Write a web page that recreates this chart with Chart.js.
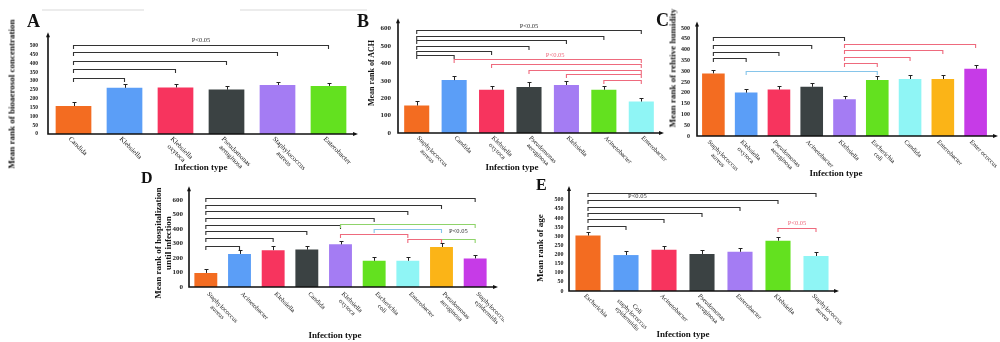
<!DOCTYPE html>
<html><head><meta charset="utf-8">
<script src="https://cdn.jsdelivr.net/npm/chart.js@4/dist/chart.umd.min.js"></script>
<style>
html,body{margin:0;padding:0;background:#fff;width:1000px;height:342px;overflow:hidden;position:relative;font-family:"Liberation Serif","DejaVu Serif",serif}
canvas{position:absolute}
.t{position:absolute;font-weight:bold;color:#111;white-space:nowrap;line-height:1}
.c{transform:translate(-50%,0)}
.r{transform:translate(-50%,-50%) rotate(-90deg);text-align:center}
.g{position:absolute;height:2px;background:#ececec}
</style></head><body>
<div class="g" style="left:42px;top:9px;width:102px"></div>
<div class="g" style="left:240px;top:9px;width:127px"></div>

<div class="t" style="left:27px;top:12px;font-size:18px">A</div>
<div class="t" style="left:357px;top:12px;font-size:18px">B</div>
<div class="t" style="left:656px;top:11px;font-size:18px">C</div>
<div class="t" style="left:141px;top:170px;font-size:16px">D</div>
<div class="t" style="left:536px;top:177px;font-size:16px">E</div>

<div class="t r" style="left:12px;top:94px;font-size:9px">Mean rank of bioaerosol concentration</div>
<div class="t r" style="left:372px;top:73px;font-size:8px">Mean rank of ACH</div>
<div class="t r" style="left:673px;top:68px;font-size:9px">Mean rank of rehtive humidity</div>
<div class="t r" style="left:163px;top:243px;font-size:9px;line-height:10px">Mean rank of hospitalization<br>until infection</div>
<div class="t r" style="left:540px;top:248px;font-size:9px">Mean rank of age</div>

<div class="t c" style="left:201px;top:163px;font-size:9px">Infection type</div>
<div class="t c" style="left:512px;top:163px;font-size:9px">Infection type</div>
<div class="t c" style="left:836px;top:169px;font-size:9px">Infection type</div>
<div class="t c" style="left:335px;top:331px;font-size:9px">Infection type</div>
<div class="t c" style="left:683px;top:330px;font-size:9px">Infection type</div>

<script>
// ---------- DATA ----------
const categoriesA = [["Candida"],["Klebsiella"],["Klebsiella","oxytoca"],["Pseudomonas","aeruginosa"],["Staphylococcus","aureus"],["Enterobacter"]];
const valuesA = [158,261,263,251,277,272];
const errorsA = [25,23,21,21,19,19];
const yTicksA = [0,50,100,150,200,250,300,350,400,450,500];
const bracketsA = [[0,1,316],[0,2,368],[0,3,414],[0,4,463],[0,5,502]];
const notesA = [[2.5,531,"P<0.05"]];

const categoriesB = [["Staphylococcus","aureus"],["Candida"],["Klebsiella","oxytoca"],["Pseudomonas","aeruginosa"],["Klebsiella"],["Acinetobacter"],["Enterobacter"]];
const valuesB = [158,304,249,265,276,249,181];
const errorsB = [26,24,24,26,22,24,22];
const yTicksB = [0,100,200,300,400,500,600];
const bracketsB = [[0,1,446],[0,2,473],[0,3,503],[0,4,534],[0,5,556],[0,6,595]];
const bracketsBRed = [[1,6,423],[2,6,394],[3,6,365],[4,6,337],[5,6,304]];
const notesB = [[3,611,"P<0.05"]];
const notesBRed = [[3.7,447,"P<0.05"]];

const categoriesC = [["Staphylococcus","aureus"],["Klebsiella","oxytoca"],["Pseudomonas","aeruginosa"],["Acinetobacter"],["Klebsiella"],["Escherichia","coli"],["Candida"],["Enterobacter"],["Enter ococcus"]];
const valuesC = [290,201,215,228,170,260,264,264,312];
const errorsC = [18,15,16,18,16,16,18,18,18];
const yTicksC = [0,50,100,150,200,250,300,350,400,450,500];
const bracketsC = [[0,1,361],[0,2,390],[0,3,421],[0,4,458]];
const bracketsCRed = [[4,5,336],[4,6,366],[4,7,398],[4,8,426]];
const bracketsCBlue = [[1,5,300]];

const categoriesD = [["Staphylococcus","aureus"],["Acinetobacter"],["Klebsiella"],["Candida"],["Klebsiella","oxytoca"],["Escherichia","coli"],["Enterobacter"],["Pseudomonas","aeruginosa"],["Staphylococcus","epidermidis"]];
const valuesD = [97,228,254,258,294,181,181,276,197];
const errorsD = [24,26,26,24,26,24,24,26,24];
const yTicksD = [0,100,200,300,400,500,600];
const bracketsD = [[0,1,285],[0,2,338],[0,3,387],[0,4,430],[0,5,475],[0,6,523],[0,7,568],[0,8,614]];
const bracketsDGreen = [[4,8,437],[7,8,331]];
const bracketsDRed = [[4,6,364],[6,7,331]];
const bracketsDBlue = [[5,7,397]];
const notesD = [[7.5,382,"P<0.05"]];

const categoriesE = [["Escherichia"],["Coli","staphylococcus","epidermidis"],["Acinetobacter"],["Pseudomonas","aeruginosa"],["Enterobacter"],["Klebsiella"],["Staphylococcus","aureus"]];
const valuesE = [304,197,226,203,215,276,192];
const errorsE = [18,20,18,21,18,20,20];
const yTicksE = [0,50,100,150,200,250,300,350,400,450,500];
const bracketsE = [[0,1,356],[0,2,393],[0,3,427],[0,4,463],[0,5,498],[0,6,537]];
const bracketsERed = [[5,6,343]];
const notesE = [[1.3,518,"P<0.05"]];
const notesERed = [[5.5,370,"P<0.05"]];

// ---------- STYLE ----------
const palette = ["#F36C21","#5B9EF7","#F7345E","#3B4243","#A47CF3","#63E11F","#8FF5F5","#FBB417","#C63BE7"];
const INK = "#333", RED = "#EE6A7D", BLUE = "#86C5EA", GREEN = "#8FD36A";
const SERIF = '"Liberation Serif","DejaVu Serif",serif';

const decor = {
  id: 'decor',
  afterDatasetsDraw(chart, args, o) {
    const ctx = chart.ctx, xs = chart.scales.x, ys = chart.scales.y, ca = chart.chartArea;
    const ds = chart.data.datasets[0];
    ctx.save();
    // error bars
    ctx.strokeStyle = '#222'; ctx.lineWidth = 1;
    ds.data.forEach((v, i) => {
      const cx = Math.round(xs.getPixelForValue(i)) + 0.5;
      const y0 = ys.getPixelForValue(v), y1 = Math.round(ys.getPixelForValue(v + ds.errors[i])) + 0.5;
      ctx.beginPath(); ctx.moveTo(cx, y0); ctx.lineTo(cx, y1);
      ctx.moveTo(cx - 2, y1); ctx.lineTo(cx + 2, y1); ctx.stroke();
    });
    // axes with arrows
    ctx.strokeStyle = '#111'; ctx.fillStyle = '#111'; ctx.lineWidth = 1.6;
    const ax = ca.right + o.arrowX;
    ctx.beginPath();
    ctx.moveTo(ca.left, ca.bottom); ctx.lineTo(ca.left, ca.top + 3);
    ctx.moveTo(ca.left - 0.8, ca.bottom); ctx.lineTo(ax - 3, ca.bottom);
    ctx.stroke();
    ctx.beginPath(); ctx.moveTo(ca.left, ca.top); ctx.lineTo(ca.left - 2, ca.top + 5); ctx.lineTo(ca.left + 2, ca.top + 5); ctx.closePath(); ctx.fill();
    ctx.beginPath(); ctx.moveTo(ax, ca.bottom); ctx.lineTo(ax - 5, ca.bottom - 2); ctx.lineTo(ax - 5, ca.bottom + 2); ctx.closePath(); ctx.fill();
    // brackets
    o.brackets.forEach(g => {
      ctx.strokeStyle = g.color; ctx.lineWidth = 1.1;
      g.list.forEach(([a, b, v]) => {
        const xa = xs.getPixelForValue(a), xb = xs.getPixelForValue(b);
        const yy = Math.round(ys.getPixelForValue(v)) + 0.5;
        ctx.beginPath(); ctx.moveTo(xa, yy + o.tick); ctx.lineTo(xa, yy); ctx.lineTo(xb, yy); ctx.lineTo(xb, yy + o.tick); ctx.stroke();
      });
    });
    // notes
    ctx.textAlign = 'center'; ctx.textBaseline = 'middle';
    ctx.font = o.noteFont + 'px ' + SERIF;
    o.notes.forEach(g => {
      ctx.fillStyle = g.color;
      g.list.forEach(([i, v, txt]) => ctx.fillText(txt, xs.getPixelForValue(i), ys.getPixelForValue(v)));
    });
    // rotated category labels
    ctx.fillStyle = '#222'; ctx.textAlign = 'left'; ctx.textBaseline = 'middle';
    ctx.font = o.labelFont + 'px ' + SERIF;
    chart.data.labels.forEach((lines, i) => {
      const ws = lines.map(l => ctx.measureText(l).width), mw = Math.max(...ws);
      ctx.save();
      ctx.translate(xs.getPixelForValue(i) + o.ldx, ca.bottom + o.ldy);
      ctx.rotate(Math.PI / 4);
      lines.forEach((l, j) => ctx.fillText(l, (mw - ws[j]) / 2, j * o.lh));
      ctx.restore();
    });
    ctx.restore();
  }
};

const YW = 40, PT = 6, PR = 12, XH = 55;
function makePanel(p) {
  const cv = document.createElement('canvas');
  const w = (p.r - p.l) + YW + PR, h = (p.b - p.t) + PT + XH;
  cv.width = w; cv.height = h;
  cv.style.left = (p.l - YW) + 'px'; cv.style.top = (p.t - PT) + 'px';
  cv.style.width = w + 'px'; cv.style.height = h + 'px';
  document.body.insertBefore(cv, document.body.firstChild);
  new Chart(cv, {
    type: 'bar',
    data: {
      labels: p.labels,
      datasets: [{ data: p.values, errors: p.errors,
        backgroundColor: p.values.map((v, i) => palette[i]),
        categoryPercentage: 1, barPercentage: p.barPct, borderWidth: 0 }]
    },
    options: {
      responsive: false, animation: false, events: [],
      layout: { padding: { left: 0, top: PT, right: PR, bottom: 0 } },
      plugins: { legend: { display: false }, tooltip: { enabled: false },
        decor: { arrowX: p.arrowX, tick: 3.5, brackets: p.brackets, notes: p.notes || [],
          noteFont: 6.5, labelFont: p.labelFont, lh: p.labelFont + 0.5, ldx: p.ldx, ldy: p.ldy } },
      scales: {
        x: { type: 'category', ticks: { display: false }, grid: { display: false, drawTicks: false }, border: { display: false },
             afterFit(s) { s.height = XH; } },
        y: { min: 0, max: p.max,
             afterBuildTicks(s) { s.ticks = p.ticks.map(v => ({ value: v })); },
             ticks: { autoSkip: false, padding: p.tickPad, color: '#222', font: { family: SERIF, size: p.tickFont, weight: 'bold' } },
             grid: { display: false, drawTicks: false }, border: { display: false },
             afterFit(s) { s.width = YW; } }
      }
    },
    plugins: [decor]
  });
}

makePanel({ labels: categoriesA, values: valuesA, errors: errorsA, ticks: yTicksA, max: 575,
  l: 48, r: 354, t: 25, b: 134, barPct: 0.7, tickFont: 5.5, tickPad: 10, arrowX: 4,
  labelFont: 7, ldx: -4, ldy: 4,
  brackets: [{ list: bracketsA, color: INK }], notes: [{ list: notesA, color: INK }] });
makePanel({ labels: categoriesB, values: valuesB, errors: errorsB, ticks: yTicksB, max: 660,
  l: 398, r: 660, t: 13, b: 133, barPct: 0.67, tickFont: 7, tickPad: 7, arrowX: 4,
  labelFont: 6.5, ldx: 1, ldy: 4,
  brackets: [{ list: bracketsB, color: INK }, { list: bracketsBRed, color: RED }],
  notes: [{ list: notesB, color: INK }, { list: notesBRed, color: RED }] });
makePanel({ labels: categoriesC, values: valuesC, errors: errorsC, ticks: yTicksC, max: 530,
  l: 697, r: 992, t: 17, b: 136, barPct: 0.69, tickFont: 6, tickPad: 7, arrowX: 6,
  labelFont: 6.5, ldx: -5, ldy: 5,
  brackets: [{ list: bracketsC, color: INK }, { list: bracketsCRed, color: RED }, { list: bracketsCBlue, color: BLUE }] });
makePanel({ labels: categoriesD, values: valuesD, errors: errorsD, ticks: yTicksD, max: 695,
  l: 189, r: 492, t: 182, b: 287, barPct: 0.68, tickFont: 7, tickPad: 6, arrowX: 6,
  labelFont: 6.5, ldx: 2, ldy: 6,
  brackets: [{ list: bracketsD, color: INK }, { list: bracketsDGreen, color: GREEN }, { list: bracketsDRed, color: RED }, { list: bracketsDBlue, color: BLUE }],
  notes: [{ list: notesD, color: INK }] });
makePanel({ labels: categoriesE, values: valuesE, errors: errorsE, ticks: yTicksE, max: 575,
  l: 568.5, r: 835, t: 183, b: 291, barPct: 0.66, tickFont: 6, tickPad: 5.5, arrowX: 4,
  labelFont: 6.5, ldx: -3, ldy: 4,
  brackets: [{ list: bracketsE, color: INK }, { list: bracketsERed, color: RED }],
  notes: [{ list: notesE, color: INK }, { list: notesERed, color: RED }] });
</script>
</body></html>
